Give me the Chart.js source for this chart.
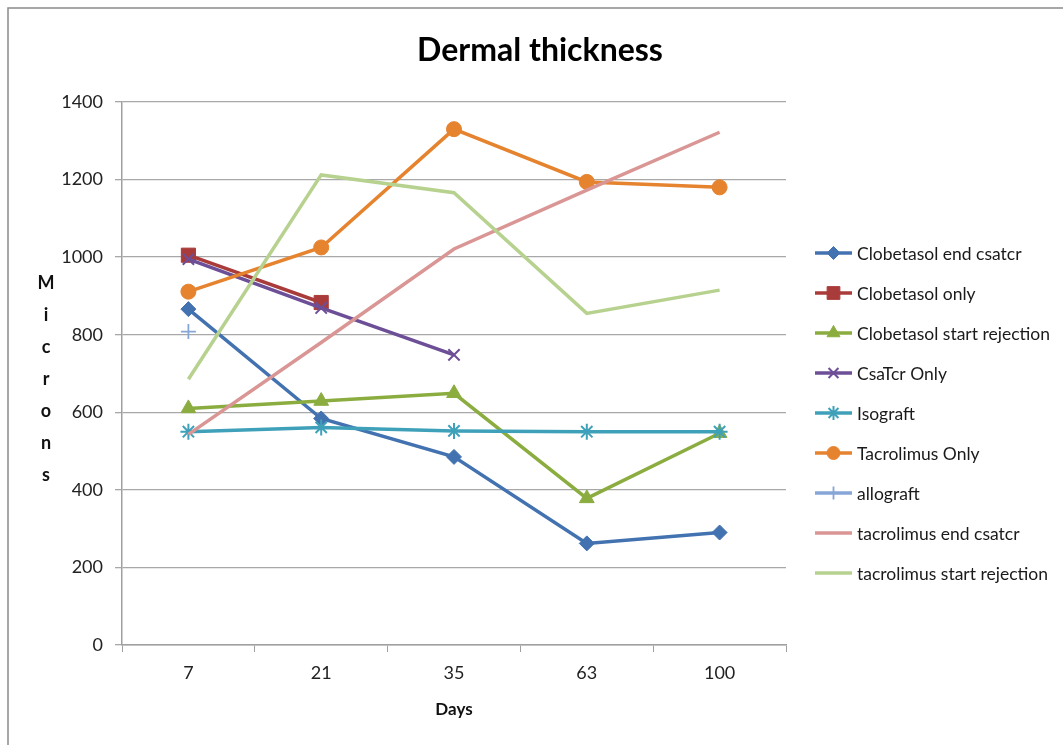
<!DOCTYPE html>
<html>
<head>
<meta charset="utf-8">
<script src="https://cdn.jsdelivr.net/npm/chart.js@4.4.1/dist/chart.umd.min.js"></script>
<style>
  body { margin: 0; background: #fff; }
  #wrap { width: 1063px; height: 745px; }
</style>
</head>
<body>
<div id="wrap"><canvas id="chart" width="1063" height="745"></canvas></div>
<script>
// values (microns per day)
const days = ['7', '21', '35', '63', '100']
const clobetasolEndCsatcr = [866, 584, 485, 262, 290]
const clobetasolOnly = [1005, 883, null, null, null]
const clobetasolStartRejection = [610, 629, 649, 378, 546]
const csaTcrOnly = [995, 869, 748, null, null]
const isograft = [550, 561, 552, 550, 550]
const tacrolimusOnly = [911, 1025, 1330, 1194, 1180]
const allograft = [808, null, null, null, null]
const tacrolimusEndCsatcr = [543, 780, 1021, 1173, 1322]
const tacrolimusStartRejection = [685, 1212, 1166, 855, 915]

const seriesNames = ['Clobetasol end csatcr', 'Clobetasol only', 'Clobetasol start rejection', 'CsaTcr Only',
    'Isograft', 'Tacrolimus Only', 'allograft', 'tacrolimus end csatcr', 'tacrolimus start rejection']
const seriesValues = [clobetasolEndCsatcr, clobetasolOnly, clobetasolStartRejection, csaTcrOnly,
    isograft, tacrolimusOnly, allograft, tacrolimusEndCsatcr, tacrolimusStartRejection]

const titleText = 'Dermal thickness'
const yTitle = 'Microns'
const xTitle = 'Days'

// looks per series
const looks = [
    {color: '#4372b0', point: 'rectRot', radius: 7.5, border: 1},
    {color: '#a93c3a', point: 'rect', radius: 10, border: 1},
    {color: '#8bad40', point: 'triangle', radius: 8.5, border: 1},
    {color: '#6c4f96', point: 'crossRot', radius: 8, border: 2},
    {color: '#3ea1b9', point: 'star', radius: 8, border: 2},
    {color: '#e6832f', point: 'circle', radius: 7.5, border: 1},
    {color: '#86a6d8', point: 'cross', radius: 7.5, border: 1.8},
    {color: '#d99694', point: 'line', radius: 0, border: 0},
    {color: '#b7d18f', point: 'line', radius: 0, border: 0}
]

const font = 'Lato, "Liberation Sans", sans-serif'

const datasets = seriesNames.map((name, i) => ({
    label: name,
    data: seriesValues[i],
    borderColor: looks[i].color,
    backgroundColor: looks[i].color,
    borderWidth: 3.5,
    pointStyle: looks[i].point,
    pointRadius: looks[i].radius,
    pointBorderWidth: looks[i].border,
    pointBorderColor: looks[i].color,
    pointBackgroundColor: looks[i].color,
    spanGaps: false,
    tension: 0,
    order: seriesNames.length - i
}))

const chartDecor = {
    id: 'chartDecor',
    beforeDraw(chart) {
        const ctx = chart.ctx
        ctx.save()
        ctx.fillStyle = '#fff'
        ctx.fillRect(0, 0, chart.width, chart.height)
        ctx.strokeStyle = '#8a8a8a'
        ctx.lineWidth = 1.5
        ctx.strokeRect(8, 8, chart.width + 20, chart.height + 20)
        ctx.restore()
    },
    afterDraw(chart) {
        const ctx = chart.ctx
        ctx.save()
        ctx.fillStyle = '#000'
        ctx.textAlign = 'center'
        ctx.textBaseline = 'middle'
        ctx.font = 'bold 32px ' + font
        ctx.fillText(titleText, 540, 51)

        // stacked letters of the y title
        ctx.font = 'bold 18px ' + font
        ctx.fillStyle = '#111'
        yTitle.split('').forEach((ch, i) => ctx.fillText(ch, 46, 283 + i * 32))

        // legend
        ctx.textAlign = 'left'
        ctx.font = '17.5px ' + font
        seriesNames.forEach((name, i) => {
            const y = 253 + i * 40
            const look = looks[i]
            ctx.strokeStyle = look.color
            ctx.fillStyle = look.color
            ctx.lineWidth = 3.5
            ctx.beginPath()
            ctx.moveTo(815, y)
            ctx.lineTo(852, y)
            ctx.stroke()
            if (look.radius > 0) {
                ctx.lineWidth = look.border
                Chart.helpers.drawPoint(ctx, {pointStyle: look.point, radius: look.radius - 1, borderWidth: look.border, rotation: 0}, 833.5, y)
            }
            ctx.fillStyle = '#1a1a1a'
            ctx.fillText(name, 857, y + 1)
        })
        ctx.restore()
    }
}

new Chart(document.getElementById('chart'), {
    type: 'line',
    data: {labels: days, datasets: datasets},
    options: {
        responsive: false,
        animation: false,
        layout: {padding: {left: 0, right: 277, top: 102, bottom: 20}},
        plugins: {
            legend: {display: false},
            title: {display: false},
            tooltip: {enabled: false}
        },
        scales: {
            x: {
                offset: true,
                grid: {offset: true, drawOnChartArea: false, tickLength: 7, color: '#a0a0a0'},
                border: {color: '#a0a0a0', width: 1.5},
                ticks: {padding: 10, color: '#222', font: {family: font, size: 18}},
                title: {display: true, text: xTitle, color: '#111', font: {family: font, size: 17, weight: 'bold'}, padding: {top: 0, bottom: 5}},
                afterFit(scale) { scale.height = 80 }
            },
            y: {
                min: 0,
                max: 1400,
                ticks: {stepSize: 200, padding: 12, color: '#222', font: {family: font, size: 18}, callback: value => String(value)},
                grid: {tickLength: 7, color: '#a8a8a8', lineWidth: 1.3},
                border: {color: '#a0a0a0', width: 1.5},
                afterFit(scale) { scale.width = 122 }
            }
        }
    },
    plugins: [chartDecor]
})
</script>
</body>
</html>
